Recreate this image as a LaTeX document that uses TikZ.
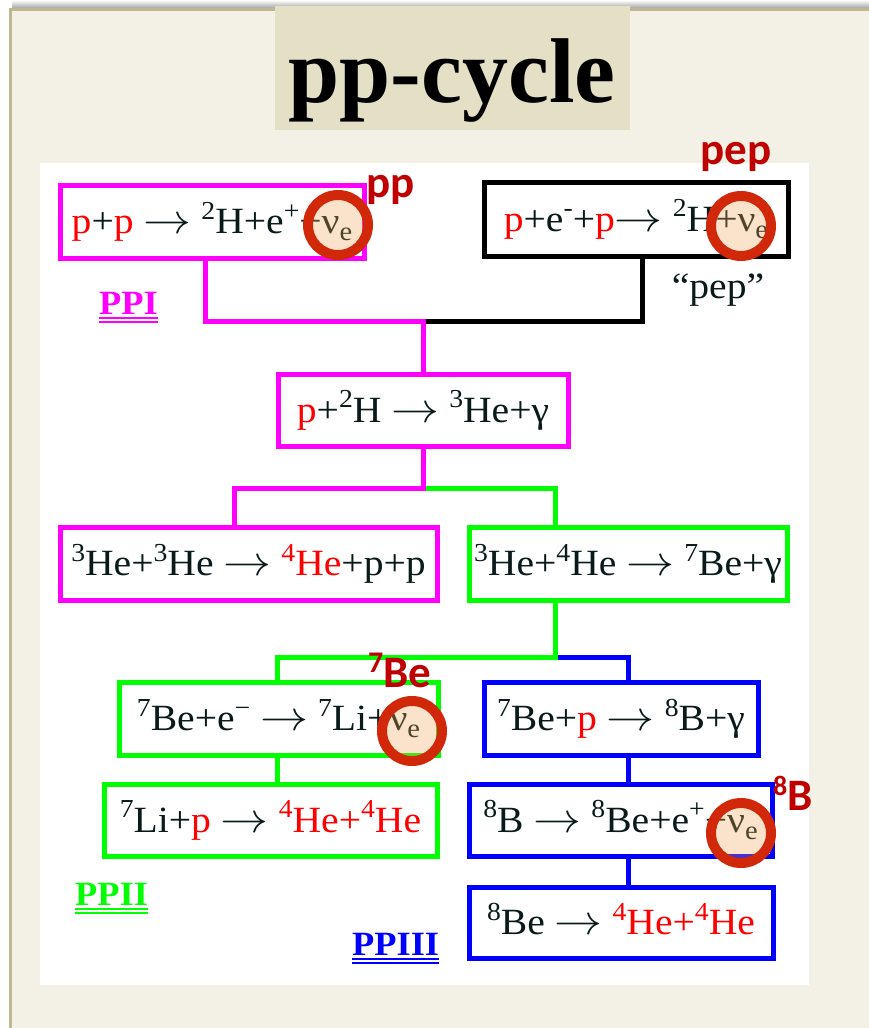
\documentclass[tikz,border=0pt]{standalone}
\usepackage{fontspec}
\setmainfont{Liberation Serif}
\newfontfamily\eqfont{Liberation Serif}[FakeStretch=1.07]
\newfontfamily\tagfont{Carlito}
\usetikzlibrary{calc}

\definecolor{pagebg}{HTML}{F3F1E6}
\definecolor{framecol}{HTML}{BDB793}
\definecolor{titlebg}{HTML}{E4E0C5}
\definecolor{magc}{HTML}{FF00FF}
\definecolor{grnc}{HTML}{00FF00}
\definecolor{bluc}{HTML}{0000FF}
\definecolor{tagred}{HTML}{C00000}
\definecolor{ringred}{HTML}{D2280A}
\definecolor{peach}{HTML}{F5A555}
\definecolor{txtdark}{HTML}{0A1A1A}

% reaction-equation helpers
\newcommand\rp{\textcolor{red}{p}}
\newcommand\upn[1]{\raisebox{0.38em}{\scalebox{0.7}{#1}}}
\newcommand\dnn[1]{\raisebox{-0.2em}{\scalebox{0.72}{#1}}}
\newcommand\yields{\scalebox{4.8}[4.2]{\fontsize{10}{12}\selectfont$\rightarrow$}}

\tikzset{
  reac/.style={draw, line width=5pt, inner sep=0pt, fill=white, text=txtdark,
    font=\eqfont\fontsize{37}{42}\selectfont, text height=27pt, text depth=3pt},
  pipe/.style={line width=5pt, line join=miter},
  nuring/.style={circle, draw=ringred, line width=10pt, fill=peach, fill opacity=0.3,
    minimum size=60pt, inner sep=0pt},
  tag/.style={anchor=base west, inner sep=0pt, text=tagred,
    font=\tagfont\bfseries\fontsize{45}{50}\selectfont},
  branch/.style={anchor=base west, inner sep=0pt,
    font=\eqfont\bfseries\fontsize{34}{38}\selectfont},
  dbl/.style={line width=1.8pt}
}

\begin{document}
\begin{tikzpicture}[x=1pt,y=-1pt]
\useasboundingbox (0,0) rectangle (869,1028);

% slide background and frame
\fill[white] (0,0) rectangle (869,1028);
\shade[top color=white, bottom color=black!35] (12,0) rectangle (869,8);
\fill[pagebg] (9,8) rectangle (869,1028);
\draw[framecol, line width=3pt] (10.5,1028) -- (10.5,9.5) -- (869,9.5);

% title
\fill[titlebg] (275,6) rectangle (630,130);
\node[anchor=base, inner sep=0pt, font=\bfseries\fontsize{92}{96}\selectfont] (title) at (452,102) {pp-cycle};

% white panel
\fill[white] (40,163) rectangle (809,985);

% junction points
\coordinate (jPP) at (205,321);
\coordinate (jPEP) at (642,321);
\coordinate (jTop) at (423,321);
\coordinate (jMid) at (423,488);
\coordinate (jL) at (234,488);
\coordinate (jR) at (555,488);
\coordinate (jLow) at (555,657);
\coordinate (jGrn) at (277,657);
\coordinate (jBlue) at (628,657);

% reaction boxes
\node[reac, draw=magc, minimum width=304pt, minimum height=73pt] (pp) at (212,221.5)
  {\rp+\rp\ \yields\ \upn{2}H+e\upn{+}+ν\dnn{e}};
\node[reac, draw=black, minimum width=304pt, minimum height=74pt] (pep) at (636,219)
  {\rp+e\upn{-}+\rp\yields\ \upn{2}H+ν\dnn{e}};
\node[reac, draw=magc, minimum width=290pt, minimum height=72pt] (p2H) at (423,410)
  {\rp+\upn{2}H \yields\ \upn{3}He+γ};
\node[reac, draw=magc, minimum width=377pt, minimum height=73pt] (he33) at (248.5,563.5)
  {\upn{3}He+\upn{3}He \yields\ \textcolor{red}{\upn{4}He}+p+p};
\node[reac, draw=grnc, minimum width=318pt, minimum height=73pt] (he34) at (628,563.5)
  {\upn{3}He+\upn{4}He \yields\ \upn{7}Be+γ};
\node[reac, draw=grnc, minimum width=319pt, minimum height=73pt] (be7e) at (278.5,718.5)
  {\upn{7}Be+e\upn{−} \yields\ \upn{7}Li+ν\dnn{e}};
\node[reac, draw=bluc, minimum width=274pt, minimum height=73pt] (be7p) at (621,718.5)
  {\upn{7}Be+\rp\ \yields\ \upn{8}B+γ};
\node[reac, draw=grnc, minimum width=333pt, minimum height=72pt] (li7) at (270.5,820)
  {\upn{7}Li+\rp\ \yields\ \textcolor{red}{\upn{4}He+\upn{4}He}};
\node[reac, draw=bluc, minimum width=303pt, minimum height=72pt] (b8) at (620.5,820)
  {\upn{8}B \yields\ \upn{8}Be+e\upn{+}+ν\dnn{e}};
\node[reac, draw=bluc, minimum width=304pt, minimum height=71pt] (be8) at (621,922.5)
  {\upn{8}Be \yields\ \textcolor{red}{\upn{4}He+\upn{4}He}};

% connectors
\draw[pipe, black] (jPEP |- pep.south) -- (jPEP) -- (jTop);
\draw[pipe, magc] (jPP |- pp.south) -- (jPP) -- (jTop) -- (jTop |- p2H.north);
\draw[pipe, grnc] (jMid) -- (jR) -- (jR |- he34.north);
\draw[pipe, magc] (p2H.south) -- (jMid) -- (jL) -- (jL |- he33.north);
\draw[pipe, bluc] (jLow) -- (jBlue) -- (jBlue |- be7p.north);
\draw[pipe, grnc] (jR |- he34.south) -- (jLow) -- (jGrn) -- (jGrn |- be7e.north);
\draw[pipe, grnc] (jGrn |- be7e.south) -- (jGrn |- li7.north);
\draw[pipe, bluc] (jBlue |- be7p.south) -- (jBlue |- b8.north);
\draw[pipe, bluc] (jBlue |- b8.south) -- (jBlue |- be8.north);

% side notes
\node[anchor=base, inner sep=0pt, text=txtdark, font=\eqfont\fontsize{37}{42}\selectfont] (pepq) at (718,298) {“pep”};

% branch names with double underline
\node[branch, text=magc] (ppI) at (99,314) {PPI};
\draw[dbl, magc] ([yshift=-4pt]ppI.base west) -- ([yshift=-4pt]ppI.base east);
\draw[dbl, magc] ([yshift=-8pt]ppI.base west) -- ([yshift=-8pt]ppI.base east);
\node[branch, text=grnc] (ppII) at (75,905) {PPII};
\draw[dbl, grnc] ([yshift=-4pt]ppII.base west) -- ([yshift=-4pt]ppII.base east);
\draw[dbl, grnc] ([yshift=-8pt]ppII.base west) -- ([yshift=-8pt]ppII.base east);
\node[branch, text=bluc] (ppIII) at (352,955) {PPIII};
\draw[dbl, bluc] ([yshift=-4pt]ppIII.base west) -- ([yshift=-4pt]ppIII.base east);
\draw[dbl, bluc] ([yshift=-8pt]ppIII.base west) -- ([yshift=-8pt]ppIII.base east);

% neutrino markers
\node[nuring] (nuPP) at (338,225) {};
\node[nuring] (nuPEP) at (741,226) {};
\node[nuring] (nuBe) at (412,731) {};
\node[nuring] (nuB) at (741,833) {};

% neutrino source tags
\node[tag] (tagPP) at (366,197) {pp};
\node[tag] (tagPEP) at (700,164) {pep};
\node[tag] (tagBe) at (368,687) {\raisebox{15pt}{\fontsize{30}{30}\selectfont 7}Be};
\node[tag] (tagB) at (773,810) {\raisebox{15pt}{\fontsize{28}{28}\selectfont 8}B};
\end{tikzpicture}
\end{document}
